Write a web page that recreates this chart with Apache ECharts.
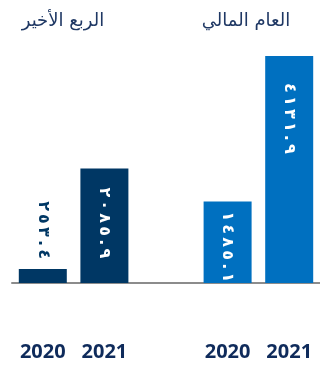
<!DOCTYPE html>
<html>
<head>
<meta charset="utf-8">
<script src="https://cdn.jsdelivr.net/npm/echarts@6/dist/echarts.min.js"></script>
<style>
  html, body { margin: 0; padding: 0; background: #fff; }
  #chart { width: 320px; height: 367px; }
</style>
</head>
<body>
<div id="chart"></div>
<script>
// Years shown under each pair of bars
const years = ['2020', '2021'];
// Group headings: last quarter, fiscal year
const groupTitles = ['الربع الأخير', 'العام المالي'];
// Values for the last quarter (2020, 2021)
const quarterValues = [253.4, 2085.9];
// Values for the fiscal year (2020, 2021)
const yearValues = [1485.1, 4131.9];
// Printed value labels (Arabic-Indic digits)
const quarterLabels = ['٢٥٣.٤', '٢٠٨٥.٩'];
const yearLabels = ['١٤٨٥.١', '٤١٣١.٩'];

const navy = '#003764';
const blue = '#0070C0';

// Five slots: two quarter bars, an empty spacer, two fiscal-year bars
const categories = [years[0], years[1], '', years[0], years[1]];

// Open up the digit spacing with thin spaces, keeping the digits in
// left-to-right order inside an explicit LTR override
const spaced = s => '\u202D' + Array.from(s).join('\u2009') + '\u202C';

// Vertical label reading top-to-bottom; outside labels sit above the bar
function bar(value, text, color, outside, gap) {
  return {
    value: value,
    itemStyle: { color: color },
    label: {
      show: true,
      formatter: spaced(text),
      rotate: -90,
      align: outside ? 'right' : 'left',
      verticalAlign: 'middle',
      position: outside ? 'top' : 'insideTop',
      distance: gap,
      color: outside ? navy : '#ffffff',
      fontFamily: 'DejaVu Sans',
      fontWeight: 'bold',
      fontSize: 16
    }
  };
}

const seriesData = [
  bar(quarterValues[0], quarterLabels[0], navy, true, 10),
  bar(quarterValues[1], quarterLabels[1], navy, false, 19),
  '-',
  bar(yearValues[0], yearLabels[0], blue, false, 10),
  bar(yearValues[1], yearLabels[1], blue, false, 27)
];

const titleStyle = { color: '#1F3864', fontSize: 18, fontWeight: 'normal', fontFamily: 'DejaVu Sans' };

const chart = echarts.init(document.getElementById('chart'), null, { renderer: 'canvas' });
chart.setOption({
  animation: false,
  title: [
    { text: groupTitles[0], left: 58, top: 7, textAlign: 'center', textStyle: titleStyle },
    { text: groupTitles[1], left: 241, top: 7, textAlign: 'center', textStyle: titleStyle }
  ],
  grid: { left: 12, right: 0, top: 56, bottom: 84, containLabel: false },
  xAxis: {
    type: 'category',
    data: categories,
    axisLine: { lineStyle: { color: '#8C8C8C', width: 2 } },
    axisTick: { show: false },
    axisLabel: {
      margin: 59,
      color: '#0F2B5B',
      fontSize: 20,
      fontWeight: 'bold',
      fontFamily: 'Open Sans'
    }
  },
  yAxis: {
    type: 'value',
    min: 0,
    max: 'dataMax',
    show: false,
    splitLine: { show: false }
  },
  series: [{
    type: 'bar',
    barWidth: 48,
    data: seriesData
  }]
});
</script>
</body>
</html>
